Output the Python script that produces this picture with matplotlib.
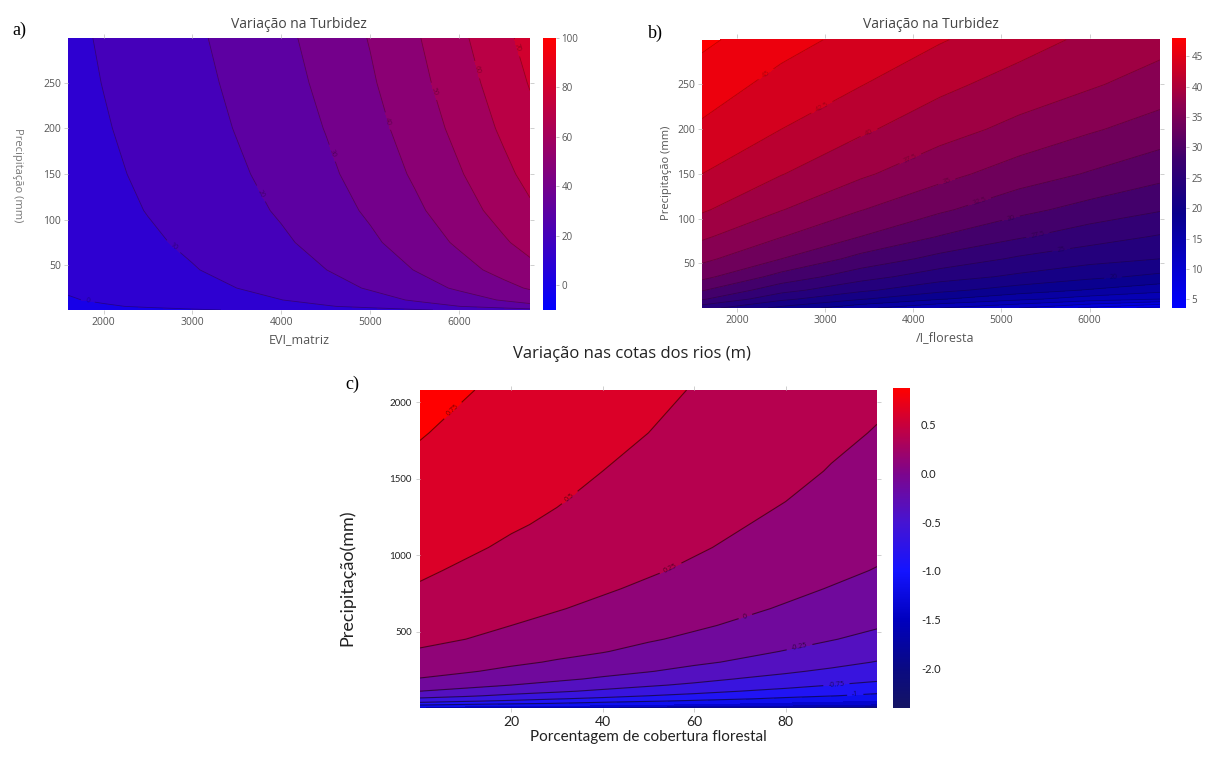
import numpy as np
import matplotlib
matplotlib.use('Agg')
import matplotlib.pyplot as plt
from matplotlib.colors import LinearSegmentedColormap, Normalize
from matplotlib.cm import ScalarMappable

plt.rcParams['axes.unicode_minus'] = False
plt.rcParams['font.family'] = ['Open Sans', 'DejaVu Sans']

# ---- panel a: turbidity vs EVI_matriz and precipitation ----
xa = [1600, 2000, 2500, 3000, 3500, 4000, 4500, 5000, 5500, 6000, 6500, 6800]
ya = [1, 5, 12, 25, 45, 75, 110, 150, 200, 250, 299]
za = [
    [-4.3, -3.3, -2.1, -0.9, 0.5, 2.1, 4.0, 6.2, 8.8, 11.7, 14.8, 16.7],
    [-2.1, -0.8, 0.9, 2.5, 4.5, 6.7, 9.3, 12.3, 15.9, 19.9, 24.2, 26.9],
    [-0.6, 1.0, 3.0, 4.9, 7.3, 9.9, 13.0, 16.6, 20.9, 25.6, 30.8, 33.9],
    [0.9, 2.7, 5.1, 7.3, 10.0, 13.0, 16.6, 20.8, 25.8, 31.3, 37.2, 40.9],
    [2.3, 4.3, 6.9, 9.5, 12.5, 15.9, 19.9, 24.6, 30.2, 36.4, 43.1, 47.2],
    [3.6, 5.9, 8.7, 11.5, 14.9, 18.6, 23.1, 28.3, 34.5, 41.4, 48.8, 53.4],
    [4.7, 7.2, 10.3, 13.3, 17.0, 21.0, 25.8, 31.4, 38.1, 45.6, 53.6, 58.5],
    [5.6, 8.2, 11.6, 14.8, 18.7, 22.9, 28.1, 34.1, 41.2, 49.1, 57.6, 62.8],
    [6.6, 9.3, 12.8, 16.2, 20.4, 24.9, 30.3, 36.6, 44.2, 52.6, 61.6, 67.1],
    [7.3, 10.2, 13.9, 17.4, 21.7, 26.5, 32.1, 38.8, 46.7, 55.4, 64.8, 70.6],
    [7.9, 10.9, 14.7, 18.4, 22.9, 27.8, 33.7, 40.5, 48.7, 57.8, 67.6, 73.5],
]
labels_a = [(1826, 13), (2826, 75), (3800, 130), (4550, 172), (5200, 208),
            (5700, 240), (6196, 264), (6574, 286)]
cbar_ticks_a = [0, 20, 40, 60, 80, 100]

# ---- panel b: turbidity vs EVI_floresta and precipitation ----
xb = [1600, 2500, 3400, 4300, 5200, 6000, 6800]
yb = [0, 10, 20, 35, 55, 80, 110, 150, 200, 250, 300]
zb = [
    [23.5, 19.3, 15.7, 12.5, 10.0, 7.0, 4.0],
    [27.8, 23.1, 20.2, 17.7, 15.6, 13.8, 12.5],
    [30.2, 25.9, 23.0, 20.7, 18.8, 17.3, 15.8],
    [33.2, 29.1, 26.0, 23.6, 22.0, 20.6, 19.4],
    [35.6, 32.5, 29.2, 26.7, 24.6, 23.4, 22.5],
    [37.9, 35.1, 32.5, 29.9, 27.8, 26.1, 24.8],
    [40.3, 37.6, 35.1, 32.9, 30.7, 29.1, 27.7],
    [42.5, 40.1, 37.9, 35.8, 33.8, 32.3, 30.8],
    [44.6, 42.5, 40.4, 38.5, 36.8, 35.3, 33.9],
    [46.3, 44.2, 42.6, 40.6, 39.0, 37.8, 36.4],
    [48.0, 45.9, 44.2, 42.7, 41.0, 39.5, 38.4],
]
labels_b = [(2338, 260), (2954, 226), (3495, 196), (3965, 167), (4382, 141),
            (4756, 118), (5108, 100), (5415, 81), (5679, 65), (6272, 29)]
cbar_ticks_b = [5, 10, 15, 20, 25, 30, 35, 40, 45]

# ---- panel c: river level change vs forest cover and precipitation ----
xc = [0, 10, 20, 30, 40, 50, 60, 70, 80, 90, 100]
yc = [0, 4, 12, 20, 30, 45, 60, 80, 110, 150, 190, 240, 300, 370, 450,
      540, 650, 780, 900, 1050, 1200, 1350, 1550, 1800, 2080]
zc = [
    [-2.15, -2.21, -2.27, -2.32, -2.38, -2.44, -2.50, -2.56, -2.61, -2.67, -2.73],
    [-1.62, -1.68, -1.74, -1.80, -1.86, -1.92, -1.98, -2.04, -2.10, -2.15, -2.21],
    [-1.21, -1.28, -1.33, -1.39, -1.44, -1.50, -1.56, -1.62, -1.67, -1.73, -1.79],
    [-0.99, -1.06, -1.13, -1.19, -1.26, -1.31, -1.37, -1.42, -1.48, -1.54, -1.60],
    [-0.83, -0.89, -0.95, -1.01, -1.08, -1.15, -1.22, -1.28, -1.34, -1.39, -1.45],
    [-0.66, -0.73, -0.79, -0.86, -0.92, -0.98, -1.04, -1.11, -1.18, -1.24, -1.30],
    [-0.54, -0.60, -0.67, -0.74, -0.80, -0.86, -0.92, -0.98, -1.05, -1.12, -1.19],
    [-0.40, -0.47, -0.55, -0.61, -0.68, -0.75, -0.81, -0.87, -0.93, -0.99, -1.06],
    [-0.25, -0.32, -0.40, -0.47, -0.54, -0.61, -0.68, -0.75, -0.81, -0.87, -0.93],
    [-0.11, -0.18, -0.25, -0.32, -0.40, -0.47, -0.54, -0.61, -0.68, -0.75, -0.81],
    [-0.01, -0.08, -0.15, -0.21, -0.28, -0.36, -0.43, -0.51, -0.57, -0.64, -0.71],
    [0.07, 0.02, -0.05, -0.11, -0.18, -0.24, -0.32, -0.39, -0.47, -0.54, -0.61],
    [0.15, 0.10, 0.04, -0.02, -0.08, -0.15, -0.21, -0.28, -0.36, -0.43, -0.51],
    [0.23, 0.17, 0.12, 0.06, 0.01, -0.06, -0.13, -0.19, -0.26, -0.33, -0.41],
    [0.30, 0.25, 0.19, 0.13, 0.08, 0.02, -0.04, -0.11, -0.17, -0.24, -0.31],
    [0.36, 0.31, 0.25, 0.20, 0.14, 0.09, 0.03, -0.03, -0.10, -0.16, -0.23],
    [0.42, 0.37, 0.32, 0.26, 0.21, 0.15, 0.10, 0.04, -0.02, -0.08, -0.15],
    [0.48, 0.43, 0.38, 0.32, 0.27, 0.22, 0.16, 0.11, 0.05, -0.01, -0.07],
    [0.53, 0.47, 0.42, 0.37, 0.32, 0.27, 0.22, 0.16, 0.10, 0.05, -0.01],
    [0.58, 0.53, 0.47, 0.42, 0.37, 0.32, 0.27, 0.22, 0.16, 0.10, 0.05],
    [0.62, 0.57, 0.52, 0.47, 0.42, 0.36, 0.31, 0.26, 0.21, 0.15, 0.10],
    [0.67, 0.61, 0.56, 0.51, 0.45, 0.40, 0.35, 0.30, 0.25, 0.19, 0.14],
    [0.71, 0.66, 0.61, 0.55, 0.50, 0.45, 0.40, 0.35, 0.30, 0.24, 0.19],
    [0.76, 0.71, 0.66, 0.60, 0.55, 0.50, 0.45, 0.40, 0.35, 0.29, 0.24],
    [0.81, 0.76, 0.71, 0.65, 0.60, 0.55, 0.49, 0.44, 0.39, 0.34, 0.29],
]
labels_c = [(7.2, 1946), (32.4, 1391), (54.3, 946), (71.2, 598),
            (83.4, 348), (91, 196), (95.2, 109)]
cbar_ticks_c = [0.5, 0.0, -0.5, -1.0, -1.5, -2.0]

# colour scales
cmap_a = LinearSegmentedColormap.from_list('a', ['#0000ff', '#ff0000'])
cmap_b = LinearSegmentedColormap.from_list('b', [
    (0.0, '#0000ff'), (0.35, '#0a008c'), (0.55, '#3c006e'),
    (0.75, '#8c0050'), (1.0, '#ff0000')])
cmap_c = LinearSegmentedColormap.from_list('c', [
    (0.0, '#141464'), (0.12, '#0a0a82'), (0.275, '#0000be'),
    (0.428, '#1414ff'), (0.581, '#4614d2'), (0.734, '#7d058c'),
    (0.887, '#c8003c'), (1.0, '#ff0000')])

W, H = 1211, 758
fig = plt.figure(figsize=(W / 100, H / 100), dpi=100)


def box(l, t, r, b):
    return [l / W, 1 - b / H, (r - l) / W, (b - t) / H]


def draw(ax, x, y, z, levels, line_levels, cmap, norm, pts, lw, alpha):
    ax.contourf(x, y, z, levels=levels, cmap=cmap, norm=norm)
    cs = ax.contour(x, y, z, levels=line_levels, colors='k', linewidths=lw,
                    alpha=alpha, negative_linestyles='solid')
    ax.clabel(cs, manual=pts, fontsize=5, fmt='%g', inline=True)
    for s in ax.spines.values():
        s.set_visible(False)


def cbar(cax, cmap, norm, ticks, **kw):
    cb = fig.colorbar(ScalarMappable(norm=norm, cmap=cmap), cax=cax)
    cb.outline.set_visible(False)
    cb.set_ticks(ticks)
    cax.tick_params(**kw)
    return cb


tick_style = dict(direction='out', length=3, width=0.6, color='#c8c8c8',
                  top=True, right=True, labelsize=7.5, labelcolor='#555', pad=2)

# panel a
ax_a = fig.add_axes(box(68, 38, 530, 310))
lev_a = np.arange(-10, 101, 10)
draw(ax_a, xa, ya, za, lev_a, lev_a, cmap_a, Normalize(-15, 95), labels_a, 0.6, 0.3)
ax_a.set_xlim(1600, 6800)
ax_a.set_ylim(1, 299)
ax_a.set_xticks([2000, 3000, 4000, 5000, 6000])
ax_a.set_yticks([50, 100, 150, 200, 250])
ax_a.tick_params(**tick_style)
ax_a.set_title('Variação na Turbidez', fontsize=10, color='#444', pad=7)
ax_a.set_xlabel('EVI_matriz', fontsize=9, color='#555', labelpad=4)
cax_a = fig.add_axes(box(543, 38, 556, 310))
cbar(cax_a, cmap_a, Normalize(-10, 100), cbar_ticks_a, length=2, width=0.6,
     color='#bbb', labelsize=7, labelcolor='#555', pad=2)
fig.text(17 / W, 1 - 175 / H, 'Precipitação (mm)', rotation=270, fontsize=8,
         color='#777', ha='center', va='center')
fig.text(12 / W, 1 - 30 / H, 'a)', family='Liberation Serif', fontsize=13,
         ha='left', va='center')

# panel b
ax_b = fig.add_axes(box(702, 38, 1160, 308))
norm_b = Normalize(3.6, 48)
lev_b = np.arange(2.5, 50.1, 2.5)
draw(ax_b, xb, yb, zb, lev_b, lev_b, cmap_b, norm_b, labels_b, 0.6, 0.25)
ax_b.set_xlim(1600, 6800)
ax_b.set_ylim(0, 302)
ax_b.set_xticks([2000, 3000, 4000, 5000, 6000])
ax_b.set_yticks([50, 100, 150, 200, 250])
ax_b.tick_params(**tick_style)
ax_b.set_title('Variação na Turbidez', fontsize=10, color='#444', pad=7)
ax_b.set_ylabel('Precipitação (mm)', fontsize=8, color='#555', labelpad=4)
fig.text(945 / W, 1 - 338 / H, '/I_floresta', fontsize=9, color='#555',
         ha='center', va='center')
cax_b = fig.add_axes(box(1172, 38, 1186, 308))
cbar(cax_b, cmap_b, norm_b, cbar_ticks_b, length=2, width=0.6, color='#bbb',
     labelsize=7, labelcolor='#555', pad=2)
fig.text(648 / W, 1 - 33 / H, 'b)', family='Liberation Serif', fontsize=13,
         ha='left', va='center')

# panel c
ax_c = fig.add_axes(box(420, 390, 877, 708))
norm_c = Normalize(-2.4, 0.87)
lev_c = np.arange(-2.75, 1.01, 0.25)
draw(ax_c, xc, yc, zc, lev_c, lev_c[lev_c >= -1.01], cmap_c, norm_c,
     labels_c, 0.8, 0.55)
ax_c.set_xlim(0, 100)
ax_c.set_ylim(0, 2080)
ax_c.set_xticks([20, 40, 60, 80])
ax_c.set_yticks([500, 1000, 1500, 2000])
ax_c.tick_params(direction='out', length=3, width=0.6, color='#c8c8c8',
                 top=True, right=True, labelcolor='#222', pad=3)
ax_c.tick_params(axis='x', labelsize=10, labelfontfamily='Lato')
ax_c.tick_params(axis='y', labelsize=7, labelfontfamily='Lato')
ax_c.set_xlabel('Porcentagem de cobertura florestal', fontsize=11,
                family='Lato', color='#222', labelpad=1)
fig.text(347 / W, 1 - 578 / H, 'Precipitação(mm)', rotation=90, fontsize=13,
         family='Lato', color='#222', ha='center', va='center')
cax_c = fig.add_axes(box(893, 388, 910, 708))
cbar(cax_c, cmap_c, norm_c, cbar_ticks_c, length=0, labelsize=8,
     labelcolor='#222', pad=8, labelfontfamily='Lato')
fig.text(632 / W, 1 - 354 / H, 'Variação nas cotas dos rios (m)', fontsize=12,
         color='#222', ha='center', va='center')
fig.text(345 / W, 1 - 384 / H, 'c)', family='Liberation Serif', fontsize=13,
         ha='left', va='center')

fig.savefig('out.png', dpi=100)
